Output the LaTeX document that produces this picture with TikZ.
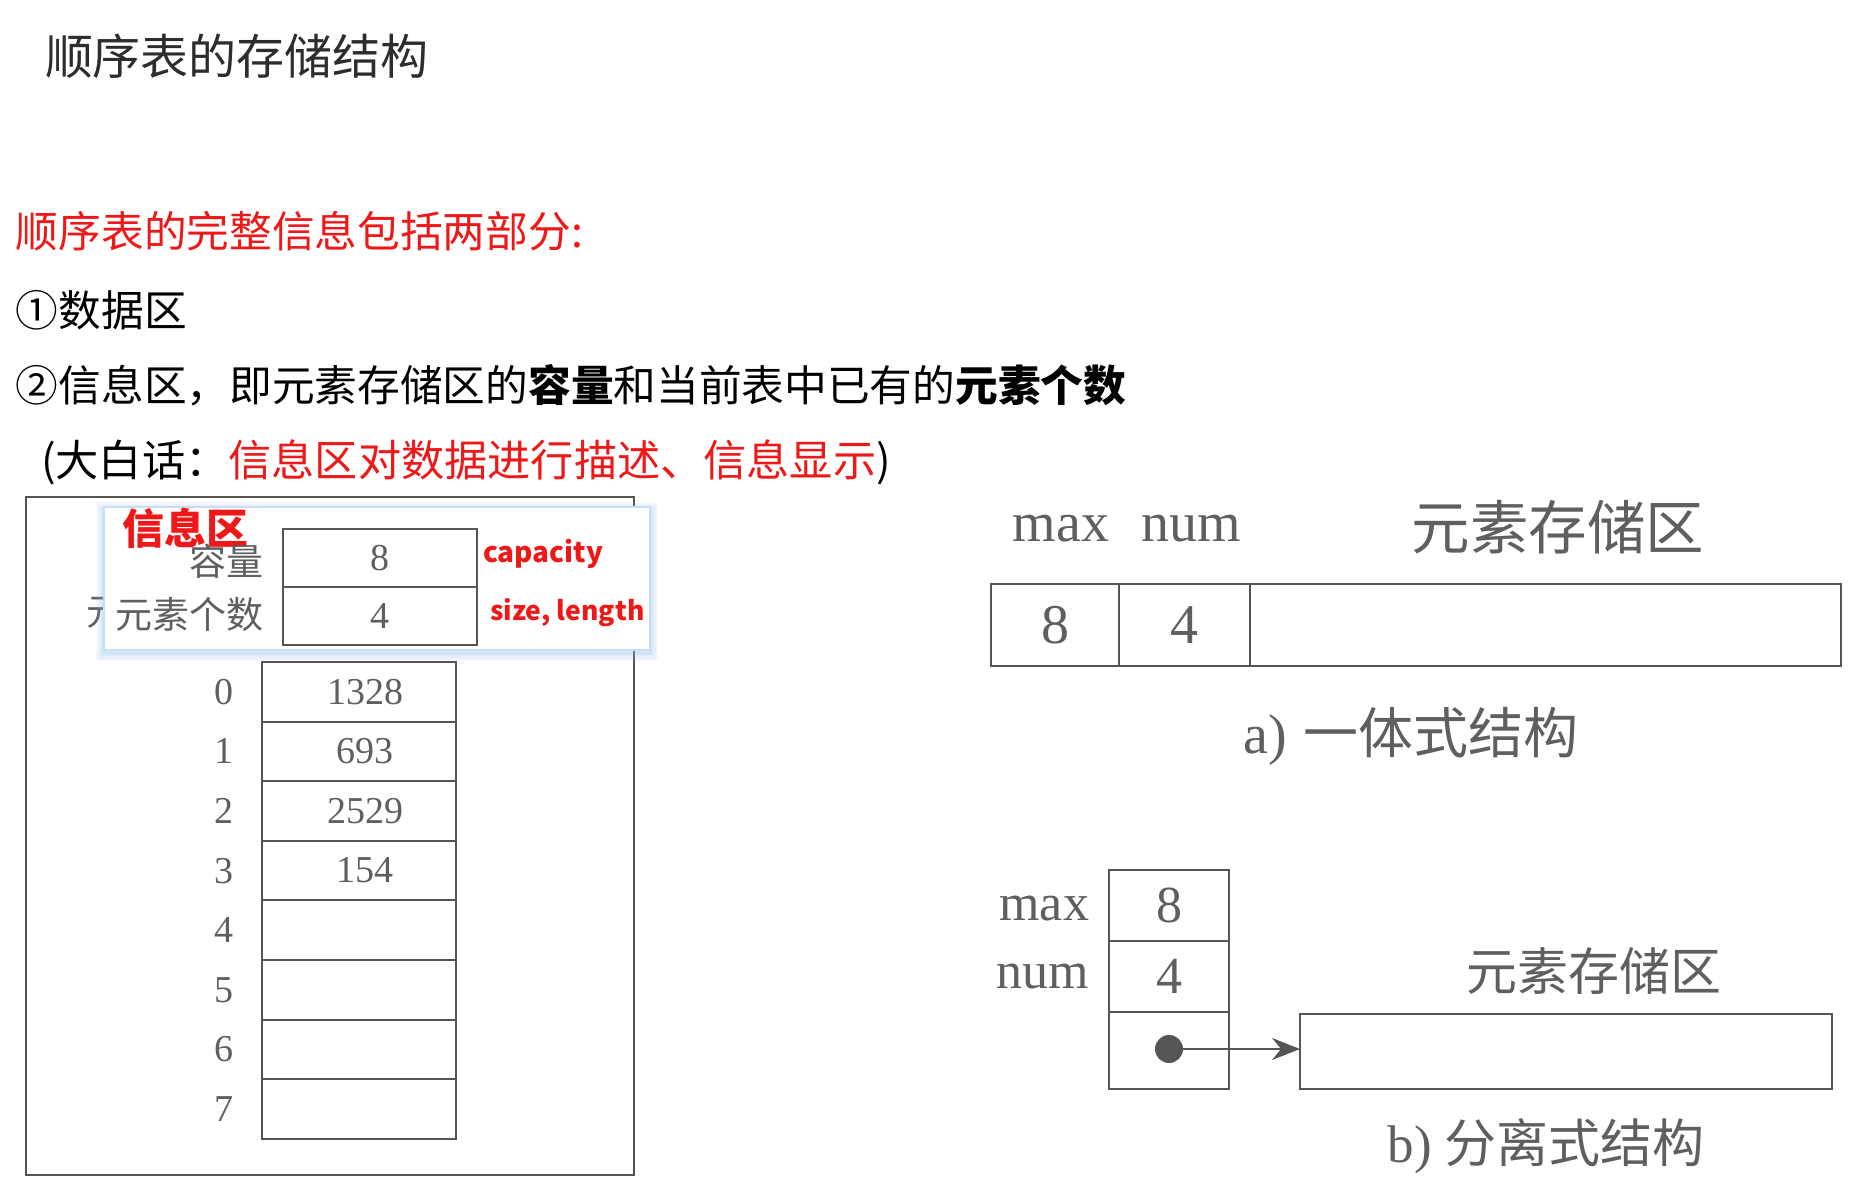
\documentclass[tikz,border=0pt]{standalone}
\usepackage{fontspec}
\setmainfont{Liberation Serif}
\newfontfamily\cjk{Noto Sans CJK SC}
\newfontfamily\ser{Liberation Serif}
\usetikzlibrary{arrows.meta}
\definecolor{redtxt}{RGB}{238,24,24}
\definecolor{graytxt}{RGB}{95,95,95}
\definecolor{grayline}{RGB}{85,85,85}
\definecolor{titlec}{RGB}{45,45,45}
\definecolor{glowc}{RGB}{140,185,235}
\definecolor{overb}{RGB}{200,222,245}
\newcommand{\fs}[1]{\fontsize{#1}{#1}\selectfont}
\begin{document}
\begin{tikzpicture}[x=1pt,y=-1pt,
  every node/.style={inner sep=0pt,outer sep=0pt},
  body/.style={anchor=west,font=\cjk\fs{42.7}},
  cell/.style={draw=grayline,line width=2pt,text=graytxt},
  dcell/.style={cell,minimum width=194pt,minimum height=59.6pt},
  dval/.style={text=graytxt,font=\ser\fs{38}},
  idx/.style={text=graytxt,font=\ser\fs{38}},
  glabel/.style={text=graytxt,font=\cjk\fs{37}},
  redlab/.style={text=redtxt,font=\cjk\bfseries\fs{28},anchor=west}]
\useasboundingbox (0,0) rectangle (1856,1193);

% ---- text lines ----
\node[anchor=west,text=titlec,font=\cjk\fs{48}] (title) at (45,56) {顺序表的存储结构};
\node[body,text=redtxt] (l1) at (16,231) {顺序表的完整信息包括两部分:};
\node[body] (l2) at (16,310) {①数据区};
\node[body] (l3) at (16,385) {②信息区，即元素存储区的{\bfseries 容量}和当前表中已有的{\bfseries 元素个数}};
\node[anchor=west,font=\cjk\fs{43.2}] (l4) at (41,462) {(大白话：{\color{redtxt}信息区对数据进行描述、信息显示})};

% ---- left figure ----
\draw[grayline,line width=1.5pt] (26,497) rectangle (634,1175);
\node[glabel,anchor=west] (frag) at (86,613) {元};
\foreach \i in {1,...,7}{
  \draw[glowc,opacity=0.07,line width=\i*2.2pt] (104,510) rectangle (650,653);
}
\draw[fill=white,draw=overb,line width=1.2pt] (104,507) rectangle (650,650);
\node[anchor=west,text=redtxt,font=\cjk\bfseries\fs{42}] (info) at (122,528) {信息区};
\node[glabel,anchor=east] (capl) at (263,561) {容量};
\node[glabel,anchor=east] (numl) at (263,614) {元素个数};
\node[cell,minimum width=194pt,minimum height=58pt,font=\ser\fs{38}] (c8) at (380,558) {8};
\node[cell,minimum width=194pt,minimum height=58pt,font=\ser\fs{38}] (c4) at (380,616) {4};
\node[redlab] (capa) at (483,554) {capacity};
\node[redlab,font=\cjk\bfseries\fs{26.5}] (sizel) at (490,613) {size, length};

\foreach \v [count=\k from 0] in {1328,693,2529,154,{},{},{},{}}{
  \node[dcell] (d\k) at (359,{691.8+59.6*\k}) {};
  \node[dval] (v\k) at (365,{691.8+59.6*\k}) {\v};
  \node[idx] (i\k) at (224,{691.8+59.6*\k}) {\k};
}

% ---- right figure (a) ----
\node[text=graytxt,font=\ser\fs{56}] (amax) at (1061,529) {max};
\node[text=graytxt,font=\ser\fs{56}] (anum) at (1191,529) {num};
\node[text=graytxt,font=\cjk\fs{58.5}] (astl) at (1558,527) {元素存储区};
\node[cell,minimum width=128pt,minimum height=82pt,font=\ser\fs{56}] (a8) at (1055,625) {8};
\node[cell,minimum width=131pt,minimum height=82pt,font=\ser\fs{56}] (a4) at (1184.5,625) {4};
\node[cell,minimum width=591pt,minimum height=82pt] (ast) at (1545.5,625) {};
\node[text=graytxt,anchor=base] (acap) at (1411,753) {{\ser\fs{56}a)}\hspace{16pt}{\cjk\fs{55}一体式结构}};

% ---- right figure (b) ----
\node[text=graytxt,font=\ser\fs{52},anchor=east] (bmax) at (1089,908) {max};
\node[text=graytxt,font=\ser\fs{52},anchor=east] (bnum) at (1089,976) {num};
\node[cell,minimum width=120pt,minimum height=71pt,font=\ser\fs{52}] (b8) at (1169,905.5) {8};
\node[cell,minimum width=120pt,minimum height=71pt,font=\ser\fs{52}] (b4) at (1169,976.5) {4};
\node[cell,minimum width=120pt,minimum height=77pt] (bp) at (1169,1050.5) {};
\node[circle,fill=grayline,minimum size=28pt] (dot) at (1169,1049) {};
\node[cell,minimum width=532pt,minimum height=75pt] (bst) at (1566,1051.5) {};
\node[text=graytxt,font=\cjk\fs{51}] (bstl) at (1594,971) {元素存储区};
\draw[grayline,line width=2pt,-{Stealth[length=28pt,width=22pt]}] (dot.center) -- (dot.center -| bst.west);
\node[text=graytxt,anchor=base] (bcap) at (1546,1162) {{\ser\fs{53}b)}\hspace{12pt}{\cjk\fs{52}分离式结构}};
\end{tikzpicture}
\end{document}
